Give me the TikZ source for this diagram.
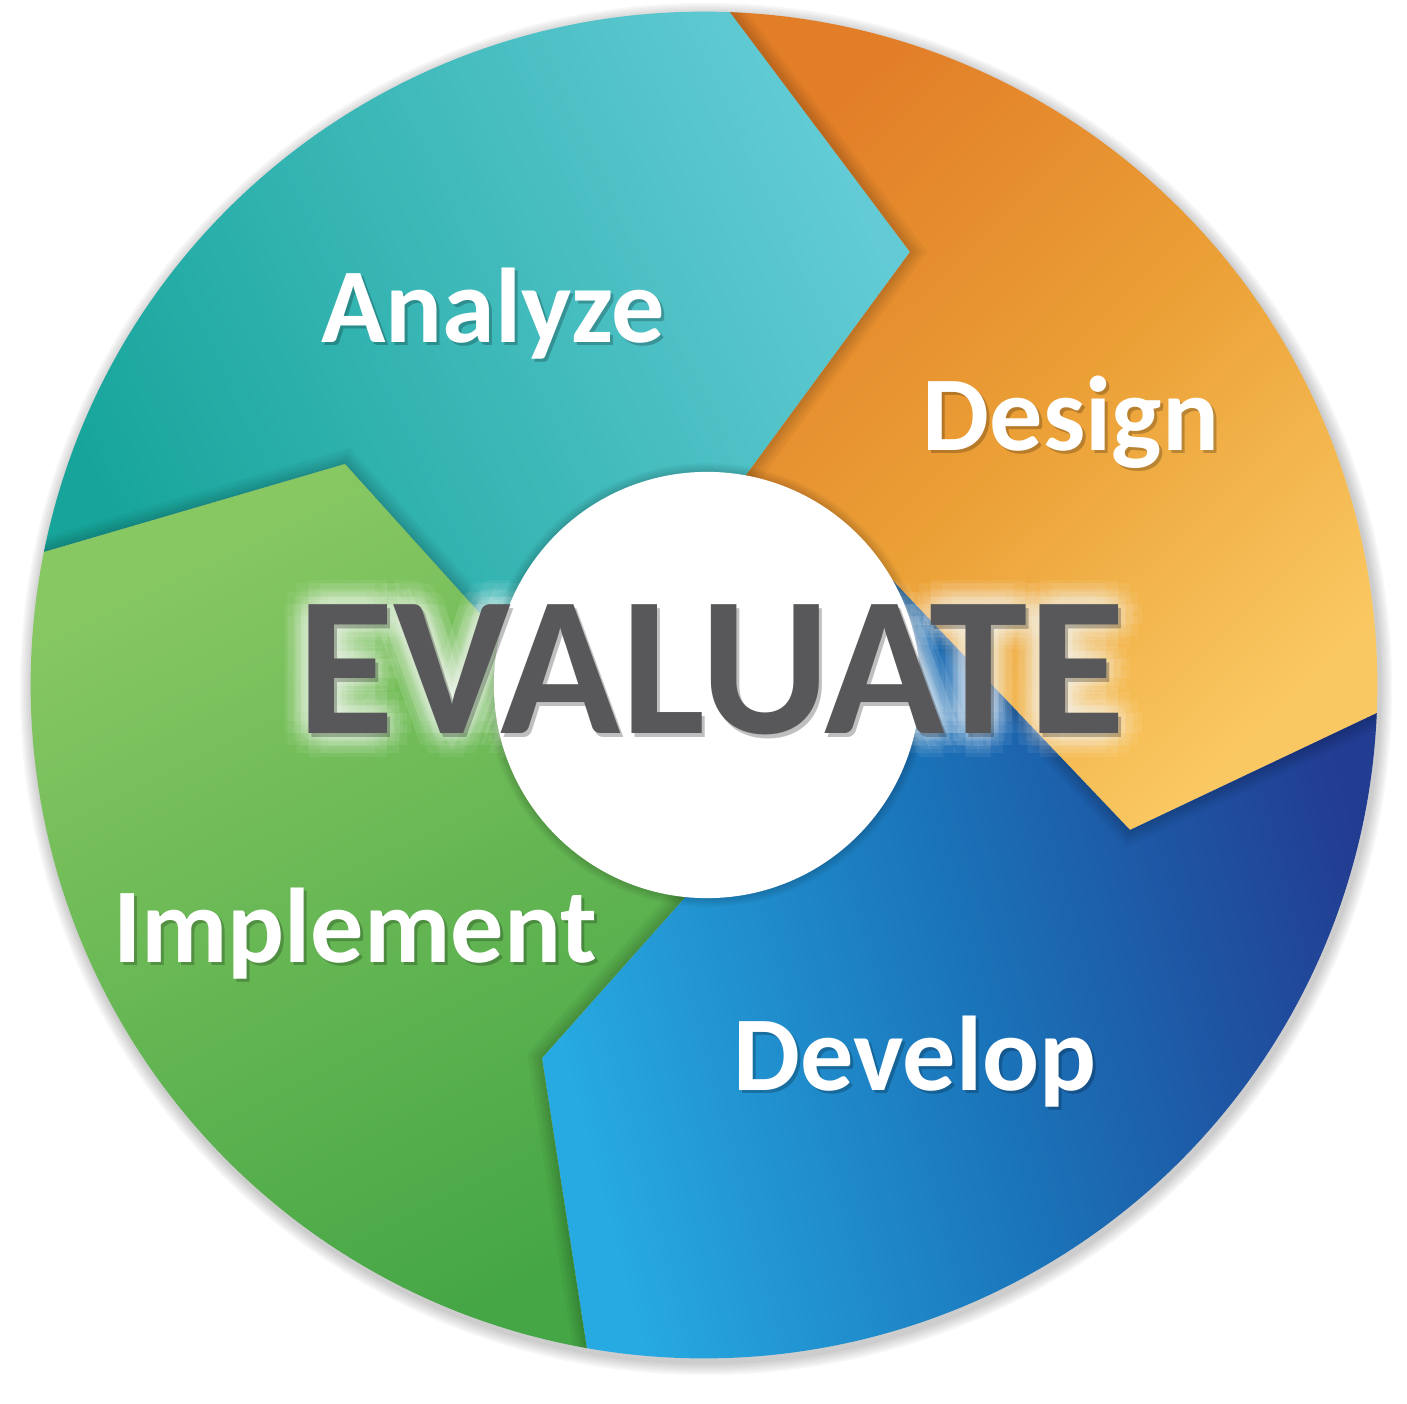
\documentclass[tikz,border=0pt]{standalone}
\usepackage{fontspec}
\setmainfont{Carlito}
\usetikzlibrary{calc}

\definecolor{anLight}{HTML}{62CBD5}
\definecolor{anDark}{HTML}{17A59B}
\definecolor{deDark}{HTML}{E27E28}
\definecolor{deMid}{HTML}{EBA036}
\definecolor{deLight}{HTML}{FAC862}
\definecolor{dvLight}{HTML}{27AAE2}
\definecolor{dvMid}{HTML}{1A74B9}
\definecolor{dvDark}{HTML}{223C91}
\definecolor{imLight}{HTML}{88C863}
\definecolor{imDark}{HTML}{45A645}
\definecolor{evGray}{HTML}{58585A}

\tikzset{
  phase/.style        = {text=white, font=\fontsize{30.2}{36}\selectfont\bfseries,
                         inner sep=0pt, anchor=base},
  phase shadow/.style = {phase, text=black, text opacity=0.22},
  centre/.style       = {text=evGray, font=\fontsize{56.5}{68}\selectfont\bfseries,
                         inner sep=0pt, anchor=base},
  glow/.style         = {centre, text=white, text opacity=0.065},
  seg shadow/.style   = {draw=black, draw opacity=0.035}
}

% the four chevron segments
\newcommand\segAn{(o4) arc[start angle=168.61, end angle=87.79, radius=6.73cm]
  -- (t1) -- (i1) -- (C) -- (i4) -- (t4) -- cycle}
\newcommand\segDe{(o1) arc[start angle=87.79, end angle=-2.39, radius=6.73cm]
  -- (t2) -- (i2) -- (C) -- (i1) -- (t1) -- cycle}
\newcommand\segDv{(o2) arc[start angle=-2.39, end angle=-100.02, radius=6.73cm]
  -- (t3) -- (i3) -- (C) -- (i2) -- (t2) -- cycle}
\newcommand\segIm{(o3) arc[start angle=-100.02, end angle=-191.39, radius=6.73cm]
  -- (t4) -- (i4) -- (C) -- (i3) -- (t3) -- cycle}

\begin{document}
\begin{tikzpicture}[x=0.01cm, y=0.01cm]
\useasboundingbox (-704,-718) rectangle (703,685);

% centre of the wheel and of the hole
\coordinate (O) at (0,0);
\coordinate (C) at (3,0);

% boundaries: outer end, arrow tip, inner end
\coordinate (o1) at (87.79:6.73cm);
\coordinate (t1) at (206,433);
\coordinate (i1) at (12,169);
\coordinate (o2) at (-2.39:6.73cm);
\coordinate (t2) at (426,-145);
\coordinate (i2) at (153,142);
\coordinate (o3) at (-100.02:6.73cm);
\coordinate (t3) at (-162,-373);
\coordinate (i3) at (7,-183);
\coordinate (o4) at (168.61:6.73cm);
\coordinate (t4) at (-359,221);
\coordinate (i4) at (-173,15);

% soft shadow of the wheel
\foreach \k in {1,...,6}
  \fill[black, opacity=0.035] (2,-4) circle[radius=6.73cm+\k*0.6pt];

% segments
\shade[bottom color=anDark, top color=anLight, shading angle=-65] \segAn;
\shade[top color=deDark, bottom color=deLight, middle color=deMid, shading angle=44] \segDe;
\shade[top color=dvDark, bottom color=dvLight, middle color=dvMid, shading angle=-75] \segDv;
\shade[top color=imLight, bottom color=imDark, shading angle=26] \segIm;

% each arrow tip casts a shadow on the next segment
\foreach \b/\seg in {1/\segDe, 2/\segDv, 3/\segIm, 4/\segAn} {
  \begin{scope}
    \clip \seg;
    \foreach \w in {1.5,3,4.5,6,8}
      \draw[seg shadow, line width=\w pt] (o\b) -- (t\b) -- (i\b);
  \end{scope}
}

% the hole
\foreach \k in {1,...,5}
  \fill[black, opacity=0.03] (C) circle[radius=2.13cm+\k*0.5pt];
\fill[white] (C) circle[radius=2.13cm];

% centre word with glow
\coordinate (evb) at (7,-48);
\foreach \a in {0,30,...,330}
  \foreach \r in {8,16,24}
    \node[glow] at ($(evb)+(\a:\r)$) {EVALUATE};
\node[centre, text=black, text opacity=0.25] at ($(evb)+(3,-4)$) {EVALUATE};
\node[centre] (ev) at (evb) {EVALUATE};

% phase labels
\foreach \x/\y/\t/\n in {-211/343/Analyze/an, 367/235/Design/de,
                         211/-405/Develop/dv, -349/-277/Implement/im} {
  \node[phase shadow] at (\x+3,\y-3) {\t};
  \node[phase] (\n) at (\x,\y) {\t};
}
\end{tikzpicture}
\end{document}
